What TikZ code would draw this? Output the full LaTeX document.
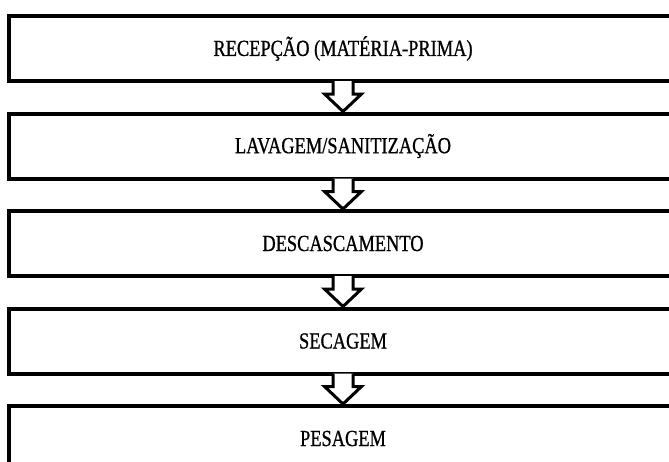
\documentclass[tikz,border=0pt]{standalone}
\usepackage{fontspec}
\setmainfont{Liberation Serif}
\newfontfamily\boxfont[FakeStretch=0.8,FakeBold=0.8]{Liberation Serif}
\usetikzlibrary{calc}
\tikzset{
  stage/.style={draw=black, line width=4pt, fill=white, minimum width=668pt, minimum height=65pt,
    inner sep=0pt, anchor=north, font=\boxfont\fontsize{23}{23}\selectfont},
  shade line/.style={draw=black!55, line width=1.5pt},
  blockarrow/.style={draw=black, line width=3pt, fill=white, line join=miter},
}
\begin{document}
\begin{tikzpicture}[x=1pt,y=-1pt]
\clip (0,0) rectangle (669,461);
\fill[white] (0,0) rectangle (669,461);
\foreach \n/\y in {b1/14,b2/111.5,b3/209,b4/306.5,b5/404}{
  \draw[shade line] (11.5,\y+4) -- (11.5,\y+67) -- (680,\y+67);
}
\node[stage] (b1) at (343,14) {RECEPÇÃO (MATÉRIA-PRIMA)};
\node[stage] (b2) at (343,111.5) {LAVAGEM/SANITIZAÇÃO};
\node[stage] (b3) at (343,209) {DESCASCAMENTO};
\node[stage] (b4) at (343,306.5) {SECAGEM};
\node[stage] (b5) at (343,404) {PESAGEM};
\foreach \a/\b in {b1/b2,b2/b3,b3/b4,b4/b5}{
  \filldraw[blockarrow] ($(\a.south)+(-10,-2)$) -- ($(\a.south)+(-10,11)$) -- ($(\a.south)+(-18.5,11)$)
    -- (\b.north) -- ($(\a.south)+(18.5,11)$) -- ($(\a.south)+(10,11)$) -- ($(\a.south)+(10,-2)$);
}
\end{tikzpicture}
\end{document}
